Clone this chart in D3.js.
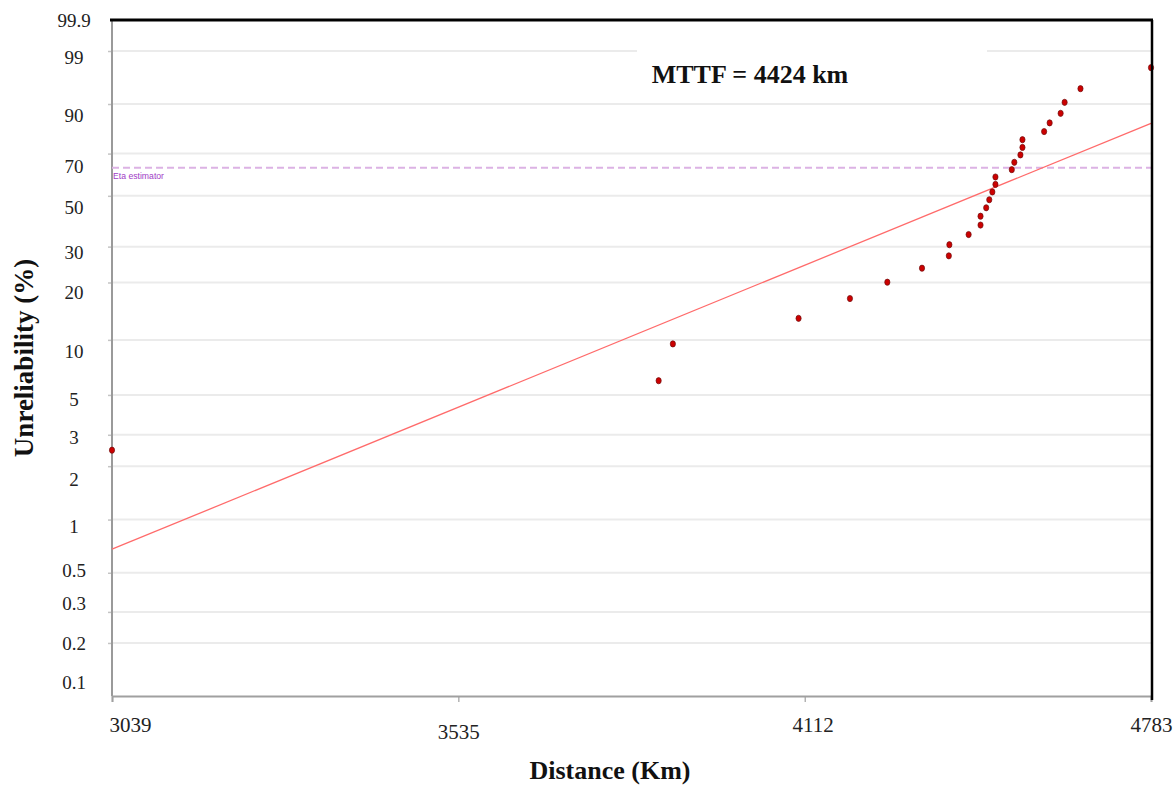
<!DOCTYPE html>
<html>
<head>
<meta charset="utf-8">
<script src="https://cdn.jsdelivr.net/npm/d3@7"></script>
<style>
  body { margin: 0; background: #fff; }
  svg { display: block; font-family: "Liberation Serif", "Times New Roman", serif; }
</style>
</head>
<body>
<svg id="chart" width="1173" height="787"></svg>
<script>
////////////////////////////////////////////
// DATA
////////////////////////////////////////////

// failure distances (km), in rank order
const distances = [3039, 3858, 3882, 4101, 4194, 4263, 4328, 4379, 4380, 4417,
  4440, 4440, 4451, 4457, 4463, 4469, 4469, 4501, 4506, 4518,
  4522, 4522, 4565, 4576, 4598, 4606, 4638, 4783];

// unreliability (%) plotted for each failure
const unreliability = [2.46, 5.99, 9.51, 13.03, 16.55, 20.07, 23.59, 27.11, 30.63, 34.15,
  37.68, 41.20, 44.72, 48.24, 51.76, 55.28, 58.80, 62.32, 65.85, 69.37,
  72.89, 76.41, 79.93, 83.45, 86.97, 90.49, 94.01, 97.54];

// fitted line end points
const fitDistance = [3039, 4783];
const fitUnrel = [0.68, 83.3];

const etaLevel = 63.2;

const xTicks = [3039, 3535, 4112, 4783];
const yTicks = [0.1, 0.2, 0.3, 0.5, 1, 2, 3, 5, 10, 20, 30, 50, 70, 90, 99, 99.9];

const mttfText = "MTTF = 4424 km";

////////////////////////////////////////////
// CHART
////////////////////////////////////////////

const svg = d3.select("#chart");
const mLeft = 112, mRight = 1151, mTop = 20, mBottom = 696;

// weibull probability transform
const wb = p => Math.log(-Math.log(1 - p / 100));

const x = d3.scaleLog().domain([xTicks[0], xTicks[xTicks.length - 1]]).range([mLeft, mRight]);
const y = d3.scaleLinear().domain([wb(yTicks[0]), wb(yTicks[yTicks.length - 1])]).range([mBottom, mTop]);

// grid lines (not on the two end ticks)
svg.append("g")
  .selectAll("line")
  .data(yTicks.slice(1, -1))
  .join("line")
    .attr("x1", mLeft).attr("x2", mRight)
    .attr("y1", d => y(wb(d))).attr("y2", d => y(wb(d)))
    .attr("stroke", "#ebebeb")
    .attr("stroke-width", 2);

// y axis: ticks only, labels placed by hand below
const yAxis = svg.append("g")
  .attr("transform", `translate(${mLeft},0)`)
  .call(d3.axisLeft(y).tickValues(yTicks.slice(1, -1).map(wb)).tickSize(4).tickFormat(""));
yAxis.select(".domain").remove();
yAxis.selectAll(".tick line").attr("stroke", "#c4c4c4").attr("stroke-width", 1.5);

// the labels in the source sit a little off their grid lines
const labelShift = {0.1: -14, 0.2: 0, 0.3: -9, 0.5: -2, 1: 7, 2: 13, 3: 3, 5: 4,
  10: 11, 20: 10, 30: 6, 50: 12, 70: 13, 90: 11, 99: 6, 99.9: 0};

svg.append("g")
  .selectAll("text")
  .data(yTicks)
  .join("text")
    .attr("x", 74)
    .attr("y", d => y(wb(d)) + (labelShift[d] || 0))
    .attr("dy", "0.35em")
    .attr("text-anchor", "middle")
    .attr("font-size", 19)
    .attr("fill", "#222")
    .text(d => d);

// left axis line
svg.append("line")
  .attr("x1", mLeft).attr("x2", mLeft)
  .attr("y1", mTop).attr("y2", mBottom)
  .attr("stroke", "#9a9a9a").attr("stroke-width", 2);

// x axis
const xAxis = svg.append("g")
  .attr("transform", `translate(0,${mBottom})`)
  .call(d3.axisBottom(x).tickValues(xTicks).tickSize(6).tickFormat(d => d));
xAxis.select(".domain").attr("stroke", "#a0a0a0").attr("stroke-width", 2);
xAxis.selectAll(".tick line").attr("stroke", "#a0a0a0").attr("stroke-width", 1.2);
xAxis.selectAll(".tick text")
  .attr("font-family", "Liberation Serif, Times New Roman, serif")
  .attr("font-size", 21)
  .attr("fill", "#222")
  .attr("y", (d, i) => i === 1 ? 28 : 21)
  .attr("dx", (d, i) => i === 0 ? 18 : (i === 2 ? 8 : 0));

// eta estimator line
svg.append("line")
  .attr("x1", mLeft).attr("x2", mRight)
  .attr("y1", y(wb(etaLevel))).attr("y2", y(wb(etaLevel)))
  .attr("stroke", "#dcb2e4")
  .attr("stroke-width", 2)
  .attr("stroke-dasharray", "7,4");

svg.append("text")
  .attr("x", mLeft + 1)
  .attr("y", y(wb(etaLevel)) + 11)
  .attr("font-family", "Liberation Sans, Arial, sans-serif")
  .attr("font-size", 9)
  .attr("textLength", 51)
  .attr("lengthAdjust", "spacingAndGlyphs")
  .attr("fill", "#a13cc6")
  .text("Eta estimator");

// fitted line
svg.append("line")
  .attr("x1", x(fitDistance[0])).attr("x2", x(fitDistance[1]))
  .attr("y1", y(wb(fitUnrel[0]))).attr("y2", y(wb(fitUnrel[1])))
  .attr("stroke", "#ff6b6b")
  .attr("stroke-width", 1.3);

// points
svg.append("g")
  .selectAll("ellipse")
  .data(distances)
  .join("ellipse")
    .attr("cx", d => x(d))
    .attr("cy", (d, i) => y(wb(unreliability[i])))
    .attr("rx", 2.6)
    .attr("ry", 3.1)
    .attr("fill", "#cc0000")
    .attr("stroke", "#6e1010")
    .attr("stroke-width", 0.7);

// MTTF box
svg.append("rect")
  .attr("x", 637).attr("y", 30)
  .attr("width", 350).attr("height", 64)
  .attr("fill", "#fff");

svg.append("text")
  .attr("x", 750)
  .attr("y", 83)
  .attr("text-anchor", "middle")
  .attr("font-size", 26)
  .attr("font-weight", "bold")
  .attr("fill", "#111")
  .text(mttfText);

// frame top and right
svg.append("line")
  .attr("x1", mLeft - 2).attr("x2", mRight + 2)
  .attr("y1", mTop).attr("y2", mTop)
  .attr("stroke", "#000").attr("stroke-width", 3);
svg.append("line")
  .attr("x1", mRight + 1).attr("x2", mRight + 1)
  .attr("y1", mTop).attr("y2", mBottom + 4)
  .attr("stroke", "#000").attr("stroke-width", 2.5);

// axis titles
svg.append("text")
  .attr("transform", "translate(33,358) rotate(-90)")
  .attr("text-anchor", "middle")
  .attr("font-size", 27)
  .attr("font-weight", "bold")
  .attr("fill", "#111")
  .text("Unreliability (%)");

svg.append("text")
  .attr("x", 610)
  .attr("y", 779)
  .attr("text-anchor", "middle")
  .attr("font-size", 26)
  .attr("font-weight", "bold")
  .attr("fill", "#111")
  .text("Distance (Km)");
</script>
</body>
</html>
